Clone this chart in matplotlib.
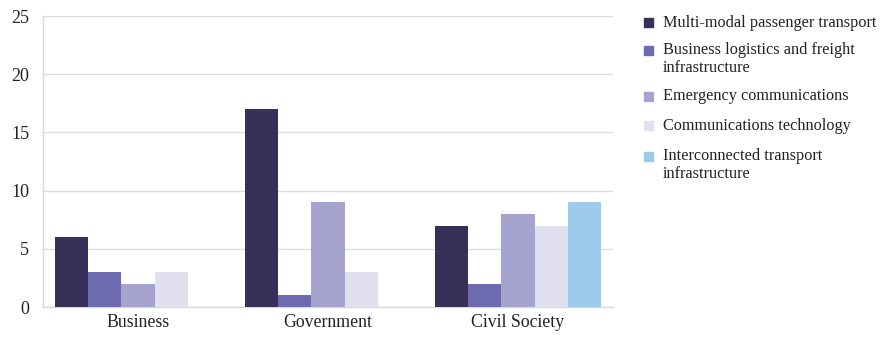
import matplotlib
matplotlib.use("Agg")
import matplotlib.pyplot as plt
from matplotlib.patches import Rectangle
import numpy as np

plt.rcParams['font.family'] = ['Liberation Serif', 'DejaVu Serif']

categories = ["Business", "Government", "Civil Society"]
series_names = [
    "Multi-modal passenger transport",
    "Business logistics and freight\ninfrastructure",
    "Emergency communications",
    "Communications technology",
    "Interconnected transport\ninfrastructure",
]
values = [
    [6, 17, 7],
    [3, 1, 2],
    [2, 9, 8],
    [3, 3, 7],
    [0, 0, 9],
]
colors = ["#372f58", "#6e6aaf", "#a7a3cf", "#e1e0ef", "#9ecbec"]
yticks = [0, 5, 10, 15, 20, 25]

W, H = 880, 337
fig = plt.figure(figsize=(W / 100, H / 100), dpi=100)
ax = fig.add_axes([43 / W, 30 / H, 570 / W, 291 / H])

x = np.arange(len(categories))
bw = 0.174
n = len(series_names)
for i, (name, vals, c) in enumerate(zip(series_names, values, colors)):
    offs = (i - (n - 1) / 2) * bw
    ax.bar(x + offs, vals, width=bw, color=c, label=name, zorder=3)

ax.set_xlim(-0.5, len(categories) - 0.5)
ax.set_ylim(0, 25)
ax.set_yticks(yticks)
ax.set_xticks(x)
ax.set_xticklabels(categories, fontsize=12.8)
ax.tick_params(axis='y', labelsize=13, length=0, pad=10, colors='#222222')
ax.tick_params(axis='x', length=0, pad=5, colors='#222222')
ax.grid(axis='y', color='#dddddd', linewidth=1, zorder=0)
for s in ['top', 'right']:
    ax.spines[s].set_visible(False)
for s in ['left', 'bottom']:
    ax.spines[s].set_color('#d9d9d9')
    ax.spines[s].set_linewidth(1)

# Legend (markers aligned with the first line of each label)
legend_y = [22.7, 50.5, 96.5, 125.5, 156]  # pixel y of first-line centres
for name, c, py in zip(series_names, colors, legend_y):
    fig.patches.append(Rectangle(((644) / W, 1 - (py + 4.5) / H), 9 / W, 9 / H,
                                 transform=fig.transFigure, color=c))
    fig.text(663 / W, 1 - (py - 8) / H, name, fontsize=11.7, va='top',
             ha='left', color='#222222', linespacing=1.15)

fig.savefig("out.png", dpi=100)
